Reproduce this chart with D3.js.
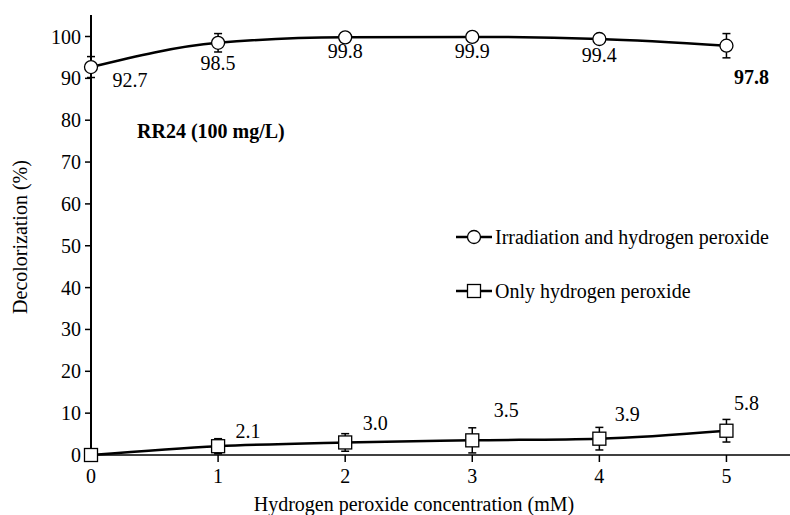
<!DOCTYPE html>
<html><head><meta charset="utf-8">
<script src="https://cdn.jsdelivr.net/npm/d3@7"></script>
<style>body{margin:0;background:#fff}svg{display:block}</style>
</head><body><svg id="c" width="790" height="515"></svg>
<script>
const xValues = [0, 1, 2, 3, 4, 5];
const irradiation = [92.7, 98.5, 99.8, 99.9, 99.4, 97.8];
const irradiationErr = [2.5, 2.2, 0.4, 0.3, 0.4, 2.9];
const onlyH2O2 = [0, 2.1, 3.0, 3.5, 3.9, 5.8];
const onlyH2O2Err = [0.3, 1.8, 2.1, 3.0, 2.7, 2.7];
const irradiationLabels = ["92.7", "98.5", "99.8", "99.9", "99.4", "97.8"];
const onlyLabels = ["", "2.1", "3.0", "3.5", "3.9", "5.8"];
const yTicks = [0,10,20,30,40,50,60,70,80,90,100];
const xTicks = [0,1,2,3,4,5];

const FS = 20;
const FF = "'Liberation Serif', 'Times New Roman', serif";
const svg = d3.select("#c");
const x = d3.scaleLinear().domain([0, 5.5]).range([91, 790]);
const y = d3.scaleLinear().domain([0, 100]).range([455, 36.5]);
function txt(sel){ return sel.append("text").style("font-family", FF).attr("font-size", FS).attr("fill","#000"); }

const g = svg.append("g");
g.append("line").attr("x1", 91).attr("x2", 91).attr("y1", 15).attr("y2", 455).attr("stroke","#000").attr("stroke-width",2);
g.append("line").attr("x1", 91).attr("x2", 790).attr("y1", 455).attr("y2", 455).attr("stroke","#000").attr("stroke-width",1.5);
yTicks.forEach(t => {
  g.append("line").attr("x1",85).attr("x2",91).attr("y1",y(t)).attr("y2",y(t)).attr("stroke","#000").attr("stroke-width",1.5);
  txt(g).attr("x",81).attr("y",y(t)+7).attr("text-anchor","end").text(t);
});
xTicks.forEach(t => {
  g.append("line").attr("x1",x(t)).attr("x2",x(t)).attr("y1",455).attr("y2",462).attr("stroke","#000").attr("stroke-width",1.5);
  txt(g).attr("x",x(t)).attr("y",483).attr("text-anchor","middle").text(t);
});
txt(svg).attr("x",414).attr("y",511).attr("text-anchor","middle").text("Hydrogen peroxide concentration (mM)");
txt(svg).attr("transform","translate(27,237) rotate(-90)").attr("text-anchor","middle").text("Decolorization (%)");
txt(svg).attr("x",137).attr("y",138).attr("font-weight","bold").text("RR24 (100 mg/L)");

const line = d3.line().x((d,i)=>x(xValues[i])).y(d=>y(d)).curve(d3.curveMonotoneX);

function drawSeries(vals, errs, shape) {
  svg.append("path").attr("d", line(vals)).attr("fill","none").attr("stroke","#000").attr("stroke-width",2.5);
  vals.forEach((v,i)=>{
    const cx = x(xValues[i]);
    if (errs[i] > 0.5) {
      const y1 = y(v+errs[i]), y2 = y(v-errs[i]);
      svg.append("line").attr("x1",cx).attr("x2",cx).attr("y1",y1).attr("y2",y2).attr("stroke","#000").attr("stroke-width",1.5);
      [y1,y2].forEach(yy=>svg.append("line").attr("x1",cx-4).attr("x2",cx+4).attr("y1",yy).attr("y2",yy).attr("stroke","#000").attr("stroke-width",1.5));
    }
    if (shape === "circle") {
      svg.append("circle").attr("cx",cx).attr("cy",y(v)).attr("r",6.5).attr("fill","#fff").attr("stroke","#000").attr("stroke-width",1.3);
    } else {
      svg.append("rect").attr("x",cx-6.5).attr("y",y(v)-6.5).attr("width",13).attr("height",13).attr("fill","#fff").attr("stroke","#000").attr("stroke-width",1.3);
    }
  });
}
drawSeries(irradiation, irradiationErr, "circle");
drawSeries(onlyH2O2, onlyH2O2Err, "square");

const irrOff = [[39,20],[0,27],[0,21],[0,21],[0,23],[25,38]];
irradiation.forEach((v,i)=>{
  txt(svg).attr("x",x(xValues[i])+irrOff[i][0]).attr("y",y(v)+irrOff[i][1]).attr("text-anchor","middle")
    .attr("font-weight", i===5?"bold":"normal").text(irradiationLabels[i]);
});
const onlyOff = [[0,0],[30,-8],[30,-12],[34,-23],[28,-18],[20,-21]];
onlyH2O2.forEach((v,i)=>{
  if (!onlyLabels[i]) return;
  txt(svg).attr("x",x(xValues[i])+onlyOff[i][0]).attr("y",y(v)+onlyOff[i][1]).attr("text-anchor","middle").text(onlyLabels[i]);
});

const leg = [{name:"Irradiation and hydrogen peroxide", shape:"circle", y:237},{name:"Only hydrogen peroxide", shape:"square", y:291}];
leg.forEach(l=>{
  svg.append("line").attr("x1",456).attr("x2",492).attr("y1",l.y).attr("y2",l.y).attr("stroke","#000").attr("stroke-width",2.5);
  if (l.shape==="circle") svg.append("circle").attr("cx",474).attr("cy",l.y).attr("r",6.5).attr("fill","#fff").attr("stroke","#000").attr("stroke-width",1.3);
  else svg.append("rect").attr("x",467.5).attr("y",l.y-6.5).attr("width",13).attr("height",13).attr("fill","#fff").attr("stroke","#000").attr("stroke-width",1.3);
  txt(svg).attr("x",495).attr("y",l.y+7).text(l.name);
});
</script></body></html>
